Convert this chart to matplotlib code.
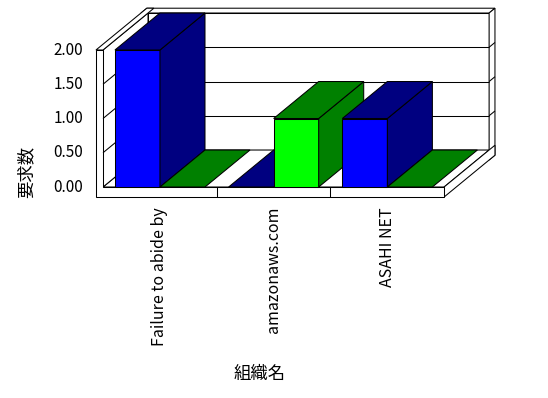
import matplotlib
matplotlib.use("Agg")
import matplotlib.pyplot as plt
from matplotlib.patches import Polygon

plt.rcParams['font.family'] = ['Noto Sans CJK JP', 'DejaVu Sans']

categories = ["Failure to abide by", "amazonaws.com", "ASAHI NET"]
series_a = [2.0, 0.0, 1.0]
series_b = [0.0, 1.0, 0.0]
yticks = [0.0, 0.5, 1.0, 1.5, 2.0]
ytick_labels = ["0.00", "0.50", "1.00", "1.50", "2.00"]
xlabel = "組織名"
ylabel = "要求数"

# series colours: (front face, side/top faces)
colors_a = ("#0000FF", "#000080")
colors_b = ("#00FF00", "#008000")

# oblique projection: depth d in [0, 1] shifts right by DX and up by DY
DX, DY = 0.396, 0.54
WALL = 0.062      # left wall thickness (x units)
SLAB = 0.146      # floor slab thickness (value units)
BACK = 0.13       # back wall thickness (fraction of depth)
BAR_W = 0.396
BAR_OFF = 0.105
ZMAX = yticks[-1]
NCAT = len(categories)


def P(x, z, d):
    return (x + d * DX, z + d * DY)


fig = plt.figure(figsize=(5.48, 3.98), dpi=100)
ax = fig.add_axes([0, 0, 1, 1])
ax.set_xlim(-0.906, 3.914)
ax.set_ylim(-3.080, 2.730)
ax.axis("off")

LW = 0.75


def face(pts, fc="white", z=1):
    ax.add_patch(Polygon([P(*p) for p in pts], closed=True, facecolor=fc,
                         edgecolor="black", linewidth=LW, joinstyle="miter",
                         zorder=z))


def seg(a, b, z=2):
    pa, pb = P(*a), P(*b)
    ax.plot([pa[0], pb[0]], [pa[1], pb[1]], color="black", lw=LW, zorder=z,
            solid_capstyle="butt")


x0, x1 = 0.0, float(NCAT)
# back wall: front face, top strip, right side strip
face([(x0, 0, 1), (x1, 0, 1), (x1, ZMAX, 1), (x0, ZMAX, 1)])
face([(x0 - WALL, ZMAX, 1), (x1, ZMAX, 1), (x1, ZMAX, 1 + BACK),
      (x0 - WALL, ZMAX, 1 + BACK)])
face([(x1, -SLAB, 1), (x1, ZMAX, 1), (x1, ZMAX, 1 + BACK),
      (x1, -SLAB, 1 + BACK)])
# floor top and right side
face([(x0, 0, 0), (x1, 0, 0), (x1, 0, 1), (x0, 0, 1)])
face([(x1, -SLAB, 0), (x1, 0, 0), (x1, 0, 1 + BACK), (x1, -SLAB, 1 + BACK)])
# left wall inner face and top
face([(x0, 0, 0), (x0, ZMAX, 0), (x0, ZMAX, 1), (x0, 0, 1)])
face([(x0 - WALL, ZMAX, 0), (x0, ZMAX, 0), (x0, ZMAX, 1 + BACK),
      (x0 - WALL, ZMAX, 1 + BACK)])
# L-shaped front face of the left wall and the floor slab
face([(x0 - WALL, ZMAX, 0), (x0 - WALL, -SLAB, 0), (x1, -SLAB, 0),
      (x1, 0, 0), (x0, 0, 0), (x0, ZMAX, 0)])
for i in range(1, NCAT):
    seg((i, -SLAB, 0), (i, 0, 0))

# gridlines on the left wall, back wall and right strip
for t in yticks[1:-1]:
    seg((x0, t, 0), (x0, t, 1))
    seg((x0, t, 1), (x1, t, 1))
    seg((x1, t, 1), (x1, t, 1 + BACK))

# bars, left to right so that each bar covers its neighbour's side face
zb = 5
for i in range(NCAT):
    for j, (vals, (cf, cs)) in enumerate(((series_a, colors_a),
                                          (series_b, colors_b))):
        v = vals[i]
        bx0 = i + BAR_OFF + j * BAR_W
        bx1 = bx0 + BAR_W
        if v > 0:
            face([(bx0, 0, 0), (bx1, 0, 0), (bx1, v, 0), (bx0, v, 0)], cf, zb)
            face([(bx1, 0, 0), (bx1, 0, 1), (bx1, v, 1), (bx1, v, 0)], cs, zb)
        face([(bx0, v, 0), (bx1, v, 0), (bx1, v, 1), (bx0, v, 1)], cs, zb)
        zb += 1

# value axis labels
for t, lab in zip(yticks, ytick_labels):
    ax.text(-0.175, t, lab, ha="right", va="center", fontsize=11)

# category labels
for i, c in enumerate(categories):
    ax.text(i + 0.5, -0.29, c, rotation=90, ha="center", va="top",
            fontsize=11.5)

ax.text(1.38, -2.73, xlabel, ha="center", va="center", fontsize=12.5)
ax.text(-0.675, 0.22, ylabel, rotation=90, ha="center", va="center",
        fontsize=12.5)

fig.savefig("out.png", dpi=100)
